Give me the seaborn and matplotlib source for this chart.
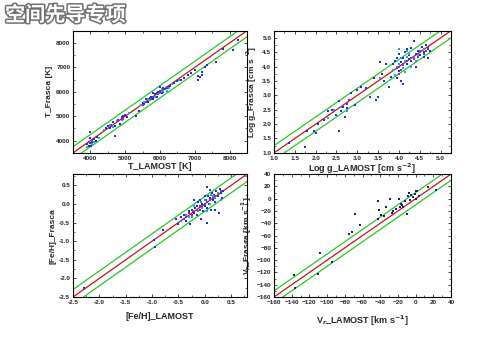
import matplotlib
matplotlib.use("Agg")
import matplotlib.pyplot as plt
import matplotlib.patheffects as pe
from matplotlib.ticker import MultipleLocator, FormatStrFormatter
import seaborn as sns
import pandas as pd

# ---------------- data ----------------
# Panel 1: Teff
t_blue_x = [3900,3950,4000,4050,4100,3980,4150,4020,4200,4000,4450,4500,4550,4600,4700,4650,4800,4850,4900,4950,5000,5050,4700,5300,5400,
            5500,5550,5600,5650,5700,5750,5800,5850,5900,5950,6000,6050,6100,6150,6200,6250,6300,6000,5900,6100,5800,
            6400,6500,6600,6700,6800,7000,7100,7150,7200,7100,7200,7350,7600,7800,8100,8250,7300,6900]
t_blue_y = [3850,3800,3900,3950,4050,4100,4000,3780,4150,4350,4500,4600,4500,4650,4600,4750,4850,4700,4950,5000,5050,4950,4200,5000,5200,
            5550,5500,5700,5600,5750,5800,5700,5900,5950,6000,6050,5950,6150,6100,6150,6200,6250,6200,5800,6000,5950,
            6350,6450,6500,6550,6700,6900,6500,6600,6800,6650,6700,7100,7200,7750,7700,8100,7000,6750]
t_cyan_x = [3900,4050,4100,4250,4550,4750,4900,5100,5550,5700,5850,6000,6100,6250,6350,6550,5950,5650,4400,4650,6200,6050,5450]
t_cyan_y = [3750,3850,3950,4100,4650,4800,4850,5150,5600,5650,5800,5950,6050,6150,6300,6500,5900,5700,4450,4550,6050,6100,5450]
t_mag_x = [3950,4050,4600,4800,4950,5600,5750,5900,6000,6100,6200,5800,5500,4900]
t_mag_y = [3950,4000,4600,4800,4900,5600,5700,5900,6000,6100,6200,5800,5450,4900]

# Panel 2: log g
g_blue_x = [1.35,1.8,1.75,1.95,2.0,2.05,2.2,2.3,2.4,2.5,2.55,2.55,2.6,2.65,2.7,2.75,2.85,2.95,3.0,3.1,3.2,3.3,3.4,3.45,3.5,3.6,3.65,3.75,3.8,
            3.85,3.9,3.95,4.0,4.05,4.1,4.1,4.15,4.2,4.25,4.3,4.35,4.4,4.45,4.5,4.55,4.6,4.65,4.7,4.75,4.0,4.2,4.3,3.95,4.05,4.4,4.6,4.7,3.7,3.55,4.25]
g_blue_y = [1.35,1.75,1.2,1.75,1.7,2.0,2.15,2.45,2.5,2.3,2.8,1.75,2.45,2.6,2.25,2.55,3.1,2.65,3.2,3.3,3.25,2.95,3.6,2.85,2.95,3.75,3.5,3.3,3.65,
            4.1,4.2,4.3,4.45,4.15,3.4,4.3,4.5,4.6,4.4,4.65,4.9,4.45,4.55,4.4,4.7,4.5,4.75,4.6,4.55,3.85,4.1,4.2,3.6,3.5,4.0,4.35,4.3,4.1,4.15,4.25]
g_cyan_x = [2.3,2.45,2.6,2.75,3.55,3.85,3.9,4.0,4.05,4.1,4.15,4.2,4.25,4.3,4.35,4.45,4.5,4.6,4.15,3.95,4.0,4.2,4.4]
g_cyan_y = [2.2,2.5,2.6,2.45,3.6,3.9,3.7,4.1,4.3,3.95,4.2,4.35,4.45,4.0,4.3,4.4,4.55,4.6,3.8,4.0,4.6,4.55,4.2]
g_mag_x = [2.75,2.8,3.95,4.0,4.05,4.1,4.2,4.3,4.35,4.45,4.5,4.6,4.65,4.7,4.0,4.1]
g_mag_y = [2.7,2.85,3.95,4.0,3.9,4.1,4.2,4.3,4.25,4.35,4.5,4.45,4.55,4.65,3.75,4.05]

# Panel 3: [Fe/H]
f_blue_x = [-2.3,-0.97,-0.95,-0.8,-0.55,-0.5,-0.45,-0.4,-0.35,-0.3,-0.28,-0.25,-0.2,-0.18,-0.15,-0.12,-0.1,-0.08,-0.05,-0.03,0.0,0.02,0.04,0.05,0.06,
            0.08,0.1,0.12,0.14,0.15,0.18,0.2,0.22,0.25,0.27,0.28,0.3,0.32,0.35,-0.2,0.05,0.1,-0.1,0.2,-0.15,0.0]
f_blue_y = [-2.25,-0.98,-1.15,-0.7,-0.4,-0.55,-0.35,-0.3,-0.45,-0.2,-0.55,-0.15,-0.25,-0.1,-0.3,0.05,-0.15,-0.4,0.0,-0.2,-0.05,0.1,-0.1,-0.5,0.2,
            0.0,0.15,-0.15,0.3,0.1,0.25,0.05,0.35,0.2,-0.25,0.4,0.3,0.15,0.35,0.1,0.45,0.38,0.1,-0.15,-0.05,0.2]
f_cyan_x = [-0.45,-0.35,-0.25,-0.2,-0.12,-0.05,0.0,0.05,0.1,0.15,0.2,0.25,0.3,-0.3,0.12,-0.08]
f_cyan_y = [-0.45,-0.3,-0.35,-0.05,-0.2,-0.1,0.1,-0.2,0.0,0.2,0.15,0.3,0.1,-0.35,0.25,0.05]
f_mag_x = [-0.4,-0.35,-0.3,-0.22,-0.15,-0.1,-0.05,0.0,0.05,0.1,0.15,0.2,0.25,0.3,-0.25]
f_mag_y = [-0.4,-0.35,-0.25,-0.2,-0.15,-0.05,-0.05,0.0,0.05,0.1,0.15,0.2,0.25,0.35,-0.3]

# Panel 4: radial velocity
v_x = [-137,-136,-110,-108,-75,-72,-68,-63,-43,-42,-41,-39,-36,-33,-29,-27,-25,-22,-19,-18,-15,-14,-12,-10,-9,-8,-6,-5,-3,-1,0,1,2,4,14,23,-17,-94]
v_y = [-124,-146,-123,-88,-57,-54,-25,-43,-33,-4,-19,-26,-28,-14,0,-23,-20,-16,0,-14,-10,-14,-3,-25,5,10,-2,6,2,7,0,12,13,5,19,15,-8,-103]

# axis settings
limits = [(3500, 8500), (1.0, 5.25), (-2.5, 0.8), (-160, 40)]
offsets = [250, 0.25, 0.2, 10]
major = [1000, 0.5, 0.5, 20]
minor = [500, 0.25, 0.25, 10]
xlabels = ["T_LAMOST [K]", "Log g_LAMOST [cm s$^{-2}$]", "[Fe/H]_LAMOST", "V$_r$_LAMOST [km s$^{-1}$]"]
ylabels = ["T_Frasca [K]", "Log g_Frasca [cm s$^{-2}$]", "[Fe/H]_Frasca", "V$_r$_Frasca [km s$^{-1}$]"]

BLUE = "#1f2fe0"
CYAN = "#1aa6e6"
MAG = "#a020c0"
NAVY = "#1a2070"

sns.set_theme(style="ticks")
plt.rcParams["font.family"] = ["Liberation Sans", "DejaVu Sans"]
plt.rcParams["font.weight"] = "bold"

fig = plt.figure(figsize=(5.0, 3.49), dpi=100)
fig.patch.set_facecolor("white")

rects = [
    [0.146, 0.562, 0.348, 0.350],
    [0.548, 0.562, 0.354, 0.350],
    [0.146, 0.149, 0.348, 0.352],
    [0.548, 0.149, 0.354, 0.352],
]

series = [
    [(t_blue_x, t_blue_y, BLUE), (t_cyan_x, t_cyan_y, CYAN), (t_mag_x, t_mag_y, MAG)],
    [(g_blue_x, g_blue_y, BLUE), (g_cyan_x, g_cyan_y, CYAN), (g_mag_x, g_mag_y, MAG)],
    [(f_blue_x, f_blue_y, BLUE), (f_cyan_x, f_cyan_y, CYAN), (f_mag_x, f_mag_y, MAG)],
    [(v_x, v_y, NAVY)],
]

xlabelpads = [1, 1, 5, 6]

for i in range(4):
    ax = fig.add_axes(rects[i])
    lo, hi = limits[i]
    d = offsets[i]
    span = hi - lo
    ref = [lo - span, hi + span]
    ax.plot(ref, [r + d for r in ref], color="#22cc22", lw=0.9, zorder=1)
    ax.plot(ref, [r - d for r in ref], color="#22cc22", lw=0.9, zorder=1)
    ax.plot(ref, ref, color="#cc1020", lw=0.9, zorder=1)
    for xs, ys, c in series[i]:
        df = pd.DataFrame({"x": xs, "y": ys})
        sns.scatterplot(data=df, x="x", y="y", ax=ax, color=c, marker="s", s=3,
                        linewidth=0, zorder=3)
    ax.set_xlim(lo, hi)
    ax.set_ylim(lo, hi)
    ax.xaxis.set_major_locator(MultipleLocator(major[i]))
    ax.yaxis.set_major_locator(MultipleLocator(major[i]))
    ax.xaxis.set_minor_locator(MultipleLocator(minor[i]))
    ax.yaxis.set_minor_locator(MultipleLocator(minor[i]))
    ax.tick_params(which="both", direction="in", top=True, right=True, labelsize=4.6, pad=2)
    ax.tick_params(which="major", length=2.5, width=0.6)
    ax.tick_params(which="minor", length=1.3, width=0.5)
    if i == 1 or i == 2:
        ax.xaxis.set_major_formatter(FormatStrFormatter("%.1f"))
        ax.yaxis.set_major_formatter(FormatStrFormatter("%.1f"))
    for lab in ax.get_xticklabels() + ax.get_yticklabels():
        lab.set_fontweight("bold")
    for sp in ax.spines.values():
        sp.set_linewidth(0.8)
        sp.set_color("black")
    ax.set_xlabel(xlabels[i], fontsize=6.5, fontweight="bold", labelpad=xlabelpads[i])
    ax.set_ylabel(ylabels[i], fontsize=6.0, fontweight="bold", labelpad=2)

t = fig.text(0.010, 0.958, "空间先导专项", fontsize=14.5, fontweight="bold", color="white",
             family=["Noto Sans CJK SC", "DejaVu Sans"], va="center", ha="left")
t.set_path_effects([pe.withStroke(linewidth=2.2, foreground="#707070")])

fig.savefig("out.png", dpi=100, facecolor="white")
